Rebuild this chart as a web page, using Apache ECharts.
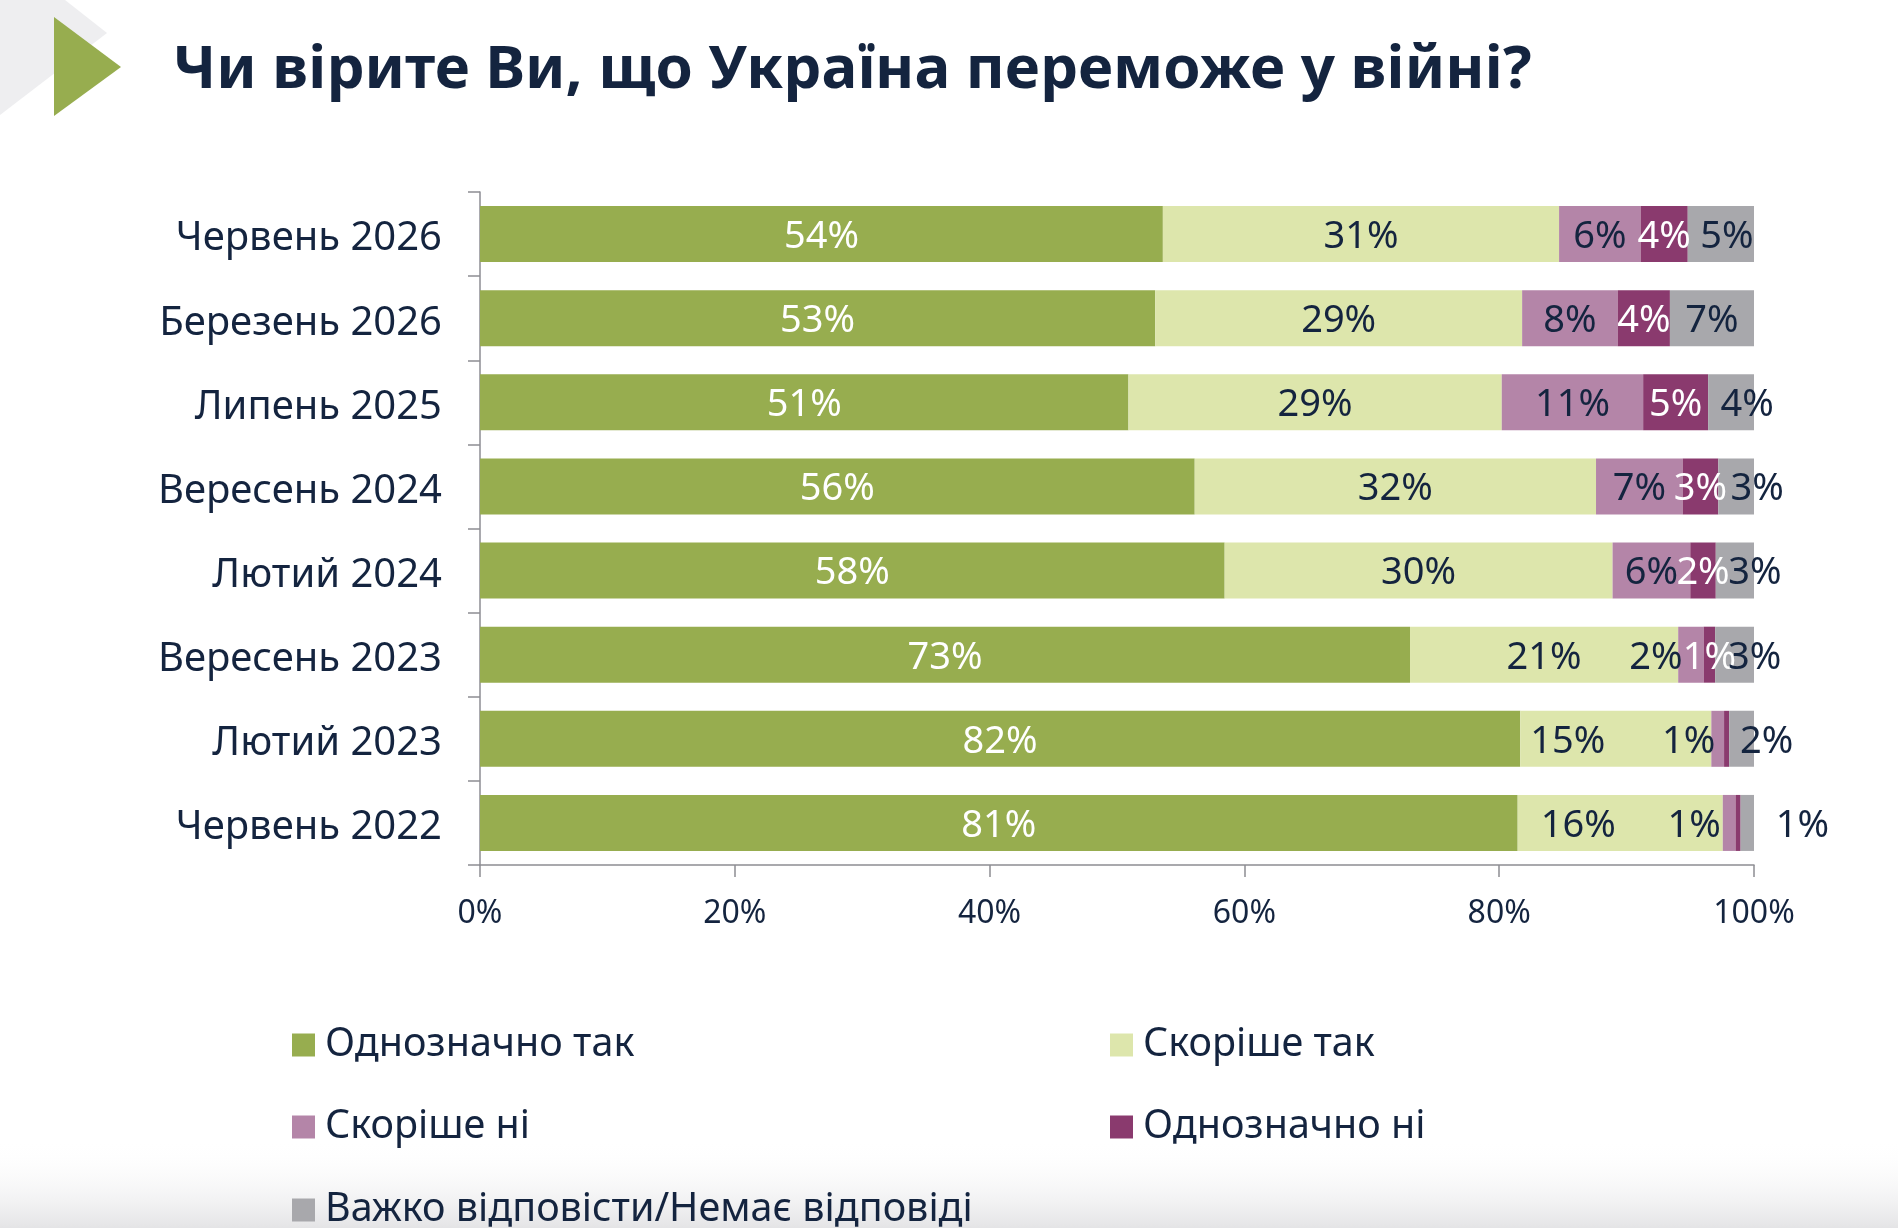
<!DOCTYPE html>
<html>
<head>
<meta charset="utf-8">
<title>Чи вірите Ви, що Україна переможе у війні?</title>
<script src="https://cdn.jsdelivr.net/npm/echarts@6/dist/echarts.min.js"></script>
<style>
  html, body { margin: 0; padding: 0; background: #fff; }
  #chart { width: 1898px; height: 1228px; }
</style>
</head>
<body>
<div id="chart"></div>
<script>
// хвилі опитування, зверху вниз
var categories = ['Червень 2026', 'Березень 2026', 'Липень 2025', 'Вересень 2024', 'Лютий 2024', 'Вересень 2023', 'Лютий 2023', 'Червень 2022'];

// частки відповідей, % (зчитано з довжини смуг)
var definitelyYes = [53.6, 53.0, 50.9, 56.1, 58.45, 73.0, 81.65, 81.45];
var ratherYes     = [31.1, 28.8, 29.3, 31.5, 30.45, 21.05, 15.0, 16.1];
var ratherNo      = [6.4, 7.5, 11.1, 6.8, 6.1, 2.0, 1.0, 1.0];
var definitelyNo  = [3.7, 4.1, 5.1, 2.8, 2.0, 0.9, 0.4, 0.4];
var hardToSay     = [5.2, 6.6, 3.6, 2.8, 3.0, 3.05, 1.95, 1.05];

var seriesNames = ['Однозначно так', 'Скоріше так', 'Скоріше ні', 'Однозначно ні', 'Важко відповісти/Немає відповіді'];
var xTicks = [0, 20, 40, 60, 80, 100];

var navy = '#14243f';
var font = 'Noto Sans';
var colors = ['#97ad4f', '#dde6ac', '#b485a8', '#8a3a6e', '#a8a8ac'];
var labelColors = ['#fff', navy, navy, '#fff', navy];

// зсув підписів, що не вміщуються у вузьких сегментах (індекс серії -> {рядок: dx})
var labelNudge = {
  1: { 6: -48, 7: -42 },
  2: { 5: -35, 6: -29, 7: -35 },
  4: { 0: 6, 2: 16, 3: 21, 4: 20, 5: 20, 6: 25, 7: 55 }
};

function buildData(values, si) {
  return values.map(function (v, i) {
    var dx = (labelNudge[si] && labelNudge[si][i]) || 0;
    return { value: v, label: { offset: [dx, 3] } };
  });
}

var allValues = [definitelyYes, ratherYes, ratherNo, definitelyNo, hardToSay];

var series = allValues.map(function (vals, si) {
  return {
    name: seriesNames[si],
    type: 'bar',
    stack: 'total',
    barWidth: 56,
    itemStyle: { color: colors[si] },
    label: {
      show: true,
      position: 'inside',
      color: labelColors[si],
      fontFamily: font,
      fontSize: 38,
      formatter: function (p) {
        var r = Math.round(p.value);
        return r > 0 ? r + '%' : '';
      }
    },
    data: buildData(vals, si)
  };
});

// легенда: дві колонки, три рядки
var legendSpots = [[292, 1025], [1110, 1025], [292, 1107], [1110, 1107], [292, 1190]];
var legends = seriesNames.map(function (name, i) {
  return {
    data: [name],
    left: legendSpots[i][0],
    top: legendSpots[i][1],
    padding: 0,
    icon: 'rect',
    itemWidth: 23,
    itemHeight: 23,
    selectedMode: false,
    textStyle: { color: navy, fontFamily: font, fontSize: 39.5, padding: [0, 0, 0, 5] }
  };
});

var myChart = echarts.init(document.getElementById('chart'));
myChart.setOption({
  animation: false,
  backgroundColor: '#fff',
  title: {
    text: 'Чи вірите Ви, що Україна переможе у війні?',
    left: 173,
    top: 41,
    padding: 0,
    textStyle: { color: navy, fontFamily: font, fontWeight: 'bold', fontSize: 60, lineHeight: 60 }
  },
  graphic: [
    {
      type: 'polygon', z: -10, silent: true,
      shape: { points: [[0, 0], [65, 0], [107, 33], [0, 115]] },
      style: { fill: '#eeeef0' }
    },
    {
      type: 'polygon', z: -5, silent: true,
      shape: { points: [[54, 17], [121, 67], [54, 116]] },
      style: { fill: '#97ad4f' }
    },
    {
      type: 'rect', z: -10, silent: true,
      shape: { x: 0, y: 1140, width: 1898, height: 88 },
      style: {
        fill: new echarts.graphic.LinearGradient(0, 0, 0, 1, [
          { offset: 0, color: 'rgba(255,255,255,0)' },
          { offset: 1, color: '#e4e4e6' }
        ])
      }
    }
  ],
  legend: legends,
  grid: { left: 480, right: 144, top: 192, bottom: 363 },
  xAxis: {
    type: 'value',
    min: xTicks[0],
    max: xTicks[xTicks.length - 1],
    interval: 20,
    axisLine: { show: true, lineStyle: { color: '#8d8d93', width: 1.5 } },
    axisTick: { show: true, length: 12, lineStyle: { color: '#8d8d93', width: 1.5 } },
    splitLine: { show: false },
    axisLabel: { formatter: '{value}%', color: navy, fontFamily: font, fontSize: 32, margin: 33 }
  },
  yAxis: {
    type: 'category',
    inverse: true,
    data: categories,
    axisLine: { show: true, lineStyle: { color: '#8d8d93', width: 1.5 } },
    axisTick: { show: true, length: 12, lineStyle: { color: '#8d8d93', width: 1.5 } },
    axisLabel: {
      margin: 38,
      formatter: '{t|{value}}',
      rich: {
        t: { color: navy, fontFamily: font, fontSize: 40, padding: [10, 0, 0, 0] }
      }
    }
  },
  series: series
});
</script>
</body>
</html>
